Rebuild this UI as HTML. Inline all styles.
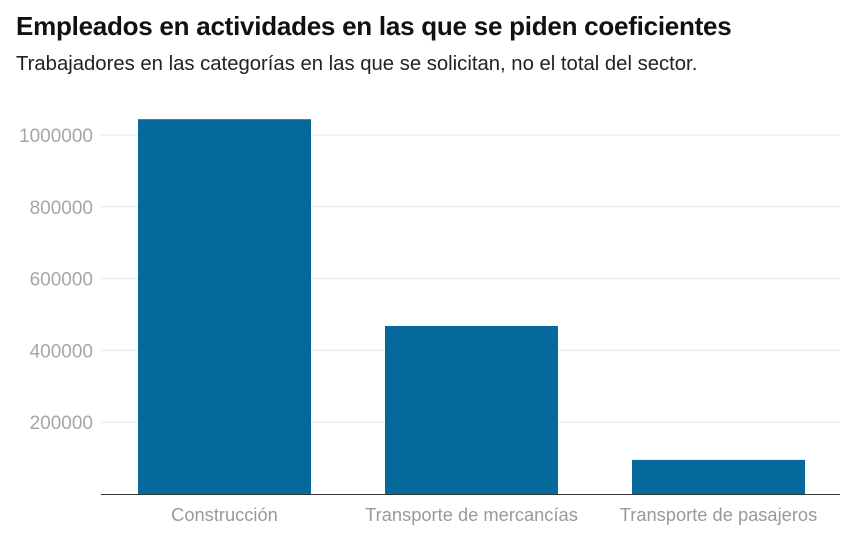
<!DOCTYPE html>
<html><head><meta charset="utf-8">
<style>
body{margin:0;width:856px;height:535px;background:#fff;font-family:"Liberation Sans",sans-serif;overflow:hidden}
h1{position:absolute;left:16px;top:11px;margin:0;font-size:26px;font-weight:bold;color:#111;letter-spacing:-0.25px;white-space:nowrap}
h2{position:absolute;left:16px;top:53px;margin:0;font-size:20.3px;font-weight:normal;color:#222;white-space:nowrap}
svg{position:absolute;left:0;top:0}
</style></head><body>
<h1>Empleados en actividades en las que se piden coeficientes</h1>
<h2>Trabajadores en las categorías en las que se solicitan, no el total del sector.</h2>
<svg id="c" width="856" height="535"></svg>
<script>
const categories=["Construcción","Transporte de mercancías","Transporte de pasajeros"];
const values=[1044000,468000,95000];
const ticks=[200000,400000,600000,800000,1000000];
const NS="http://www.w3.org/2000/svg";
const svg=document.getElementById('c');
const y0=494, pxPer=71.8/200000;
const y=v=>y0-v*pxPer;
const band=i=>138+i*247;
function mk(t,a){const e=document.createElementNS(NS,t);for(const k in a)e.setAttribute(k,a[k]);svg.appendChild(e);return e;}
ticks.forEach(t=>{
  const g=mk('line',{x1:101,x2:840,y1:y(t),y2:y(t),stroke:'#e6e6e6','stroke-width':1});
  
  
  const l=mk('text',{x:93,y:y(t)+7,'text-anchor':'end','font-size':19,fill:'#a6a6a6','font-family':'Liberation Sans, sans-serif'});
  l.textContent=t;
  
  
});
values.forEach((v,i)=>{
  const r=mk('rect',{x:band(i),y:y(v),width:173,height:y0-y(v),fill:'#06699c'});
  
  
  const l=mk('text',{x:band(i)+86.5,y:521,'text-anchor':'middle','font-size':18.3,fill:'#999','font-family':'Liberation Sans, sans-serif'});
  l.textContent=categories[i];
  
  
});
const ax=mk('line',{x1:101,x2:840,y1:y0+0.5,y2:y0+0.5,stroke:'#333','stroke-width':1});


</script>
</body></html>
